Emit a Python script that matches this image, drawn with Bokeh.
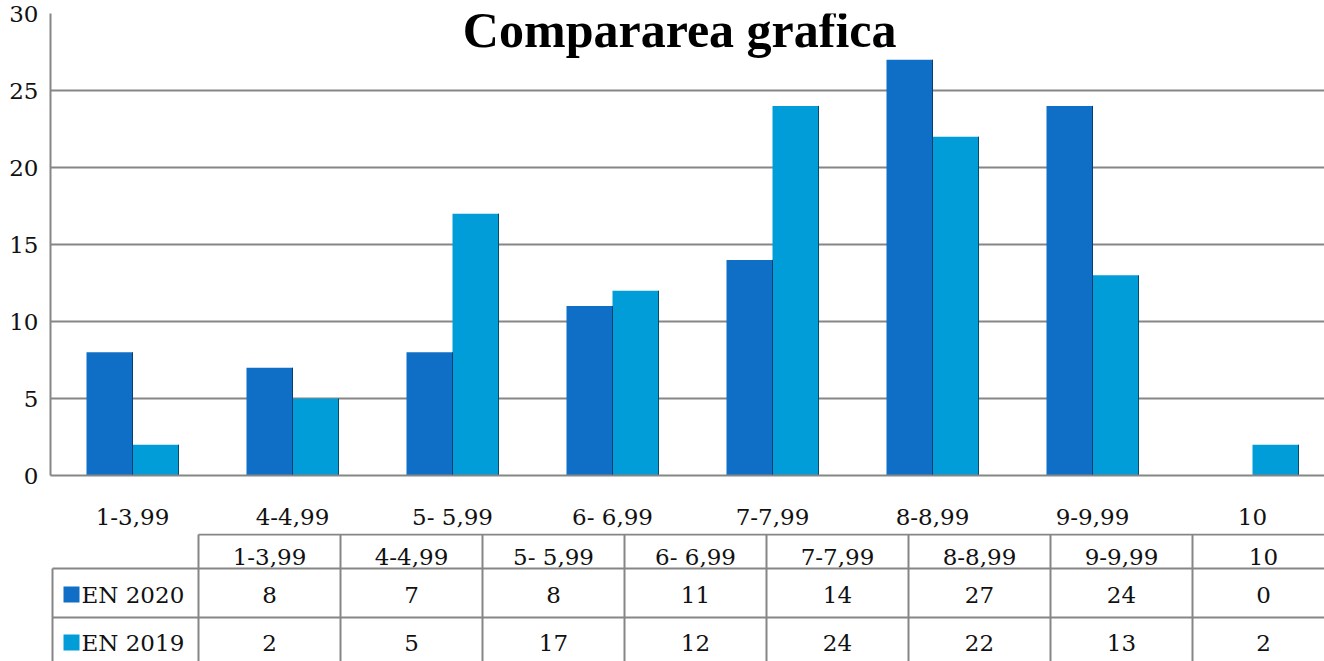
from bokeh.plotting import figure
from bokeh.models import Range1d, FixedTicker, Label, ColumnDataSource
from bokeh.layouts import column
from bokeh.embed import file_html
from bokeh.resources import INLINE
from bokeh.core.properties import value

categories = ["1-3,99", "4-4,99", "5- 5,99", "6- 6,99", "7-7,99", "8-8,99", "9-9,99", "10"]
en2020 = [8, 7, 8, 11, 14, 27, 24, 0]
en2019 = [2, 5, 17, 12, 24, 22, 13, 2]
series_names = ["EN 2020", "EN 2019"]
colors = ["#0F6FC6", "#009DD9"]
y_ticks = [0, 5, 10, 15, 20, 25, 30]

FONT = "DejaVu Serif"
FS = "23px"
TXT = "#111111"
GRID = "#868686"
BW = 0.2875

n = len(categories)
idx = list(range(n))

W = 1324
LB = 50            # left border (frames of both figures are aligned)
PITCH = 160        # px per category
TPITCH = 142       # px per table column
TABLE_X0 = 198     # px where first table data column starts

# ---------------- bar chart ----------------
xs = -0.5 - 2 / PITCH
p = figure(width=W, height=533, output_backend="svg", toolbar_location=None,
           x_range=Range1d(xs, xs + (W - LB) / PITCH), y_range=Range1d(0, 30),
           min_border_left=LB, min_border_right=0, min_border_top=13, min_border_bottom=58)
p.outline_line_color = None
p.background_fill_color = "white"
p.border_fill_color = "white"

src = ColumnDataSource(dict(x20=[i - BW / 2 for i in idx], x19=[i + BW / 2 for i in idx],
                            v20=en2020, v19=en2019,
                            e20=[i for i in idx], e19=[i + BW for i in idx]))
p.vbar(x="x20", top="v20", width=BW, source=src, fill_color=colors[0], line_color=None)
p.vbar(x="x19", top="v19", width=BW, source=src, fill_color=colors[1], line_color=None)
p.segment(x0="e20", y0=0, x1="e20", y1="v20", source=src, line_color="#0b3d6e", line_width=1)
p.segment(x0="e19", y0=0, x1="e19", y1="v19", source=src, line_color="#0b4a66", line_width=1)

p.xgrid.grid_line_color = None
p.ygrid.ticker = FixedTicker(ticks=y_ticks)
p.ygrid.grid_line_color = GRID
p.ygrid.grid_line_width = 2

p.yaxis.ticker = FixedTicker(ticks=y_ticks)
p.yaxis.axis_line_color = GRID
p.yaxis.axis_line_width = 2
p.yaxis.major_tick_line_color = None
p.yaxis.minor_tick_line_color = None
p.yaxis.major_label_text_font = FONT
p.yaxis.major_label_text_font_size = FS
p.yaxis.major_label_text_color = TXT
p.yaxis.major_label_standoff = 6

p.xaxis.ticker = FixedTicker(ticks=idx)
p.xaxis.major_label_overrides = {i: c for i, c in enumerate(categories)}
p.xaxis.axis_line_color = GRID
p.xaxis.axis_line_width = 2
p.xaxis.major_tick_line_color = None
p.xaxis.minor_tick_line_color = None
p.xaxis.major_label_text_font = FONT
p.xaxis.major_label_text_font_size = FS
p.xaxis.major_label_text_color = TXT
p.xaxis.major_label_standoff = 22

p.add_layout(Label(x=3.42, y=28.93, text="Compararea grafica", text_font="Liberation Serif",
                   text_font_style="bold", text_font_size="50px", text_align="center",
                   text_baseline="alphabetic", text_color="black"))

# ---------------- data table ----------------
TH = 128
x0t = (LB - TABLE_X0) / TPITCH
x1t = (W - TABLE_X0) / TPITCH
t = figure(width=W, height=TH, output_backend="svg", toolbar_location=None,
           x_range=Range1d(x0t, x1t), y_range=Range1d(TH, 0),
           min_border_left=LB, min_border_right=0, min_border_top=0, min_border_bottom=0)
t.outline_line_color = None
t.axis.visible = False
t.grid.visible = False

label_left = (52 - TABLE_X0) / TPITCH
row_top = [1, 35, 84]
row_mid = [23, 61, 109]
bottom = 140

t.segment(x0=[0, label_left, label_left], y0=row_top, x1=[n + 1] * 3, y1=row_top,
          line_color=GRID, line_width=2)
t.segment(x0=list(range(n + 1)), y0=[row_top[0]] * (n + 1), x1=list(range(n + 1)),
          y1=[bottom] * (n + 1), line_color=GRID, line_width=2)
t.segment(x0=[label_left], y0=[row_top[1]], x1=[label_left], y1=[bottom],
          line_color=GRID, line_width=2)

cx = [i + 0.5 for i in idx]
for row, vals in zip(row_mid, [categories, [str(v) for v in en2020], [str(v) for v in en2019]]):
    t.text(x=cx, y=[row] * n, text=vals, text_font=value(FONT), text_font_size=FS,
           text_align="center", text_baseline="middle", text_color=TXT)

key_x = (71 - TABLE_X0) / TPITCH
txt_x = (81 - TABLE_X0) / TPITCH
t.scatter(x=[key_x, key_x], y=row_mid[1:], marker="square", size=16,
          fill_color=colors, line_color=None)
t.text(x=[txt_x, txt_x], y=row_mid[1:], text=series_names, text_font=value(FONT),
       text_font_size=FS, text_align="left", text_baseline="middle", text_color=TXT)

layout = column(p, t, spacing=0)
open("out.html", "w").write(file_html(layout, INLINE))
